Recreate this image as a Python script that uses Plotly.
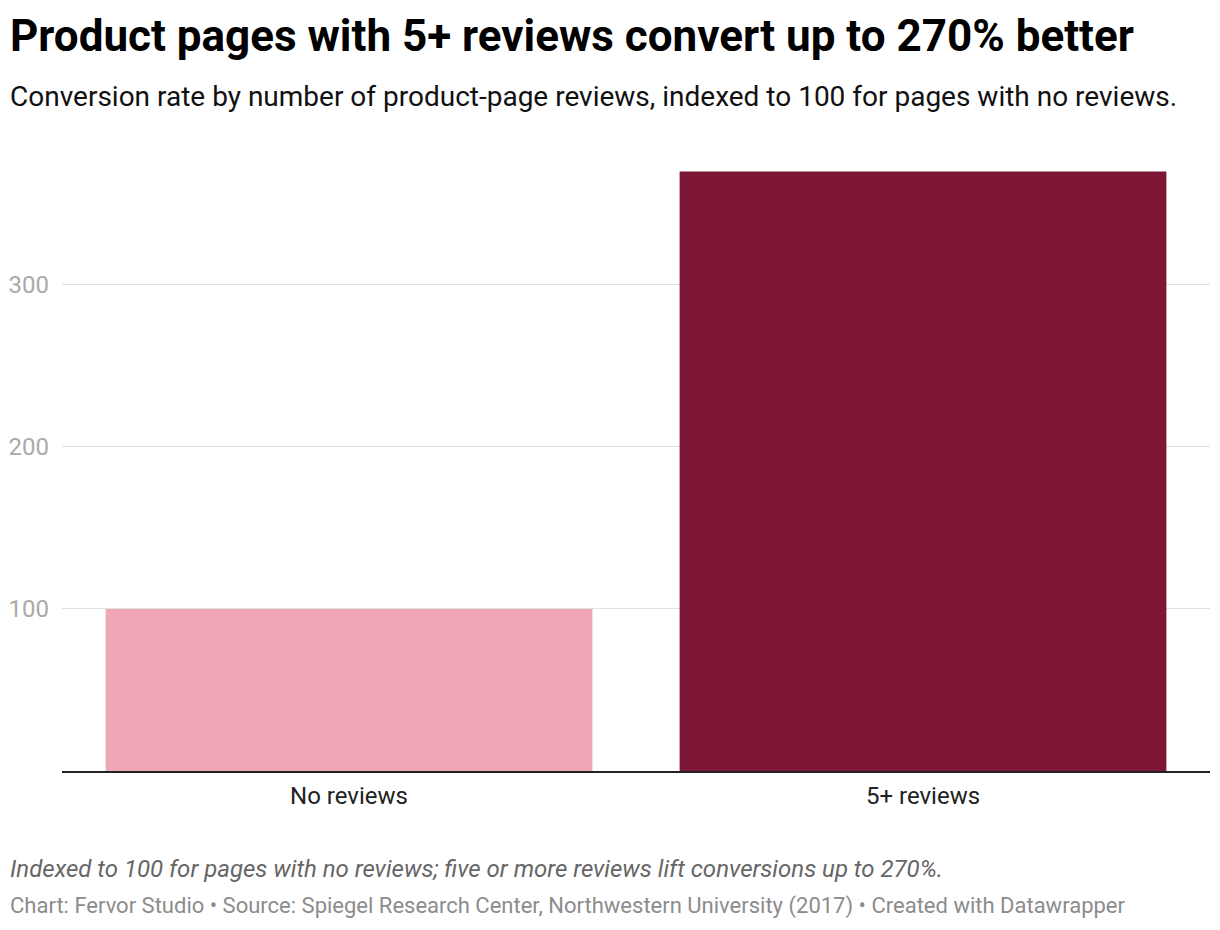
import plotly.graph_objects as go

categories = ["No reviews", "5+ reviews"]
values = [100, 370]
bar_colors = ["#EFA7B7", "#7D1535"]
tick_values = [100, 200, 300]
tick_labels = ["100", "200", "300"]

title = "Product pages with 5+ reviews convert up to 270% better"
subtitle = "Conversion rate by number of product-page reviews, indexed to 100 for pages with no reviews."
note = "Indexed to 100 for pages with no reviews; five or more reviews lift conversions up to 270%."
credit = "Chart: Fervor Studio • Source: Spiegel Research Center, Northwestern University (2017) • Created with Datawrapper"

# page body has an 8px margin; figure coordinates are offset by it
OFF = 8
W, H = 1220 - OFF, 930 - OFF
ML = 62 - OFF
MT = 139 - OFF
MR = W - (1210 - OFF)
MB = H - (771 - OFF)
plot_h = H - MT - MB
plot_w = W - ML - MR

def py(p):
    return (H - MB - (p - OFF)) / plot_h

def px(p):
    return ((p - OFF) - ML) / plot_w

fig = go.Figure(
    go.Bar(
        x=categories,
        y=values,
        marker=dict(color=bar_colors, line=dict(width=0)),
        hoverinfo="skip",
    )
)

fig.update_layout(
    width=W,
    height=H,
    margin=dict(l=ML, r=MR, t=MT, b=MB, autoexpand=False),
    paper_bgcolor="white",
    plot_bgcolor="white",
    bargap=0.152,
    showlegend=False,
    font=dict(family="Roboto", color="#000"),
    xaxis=dict(
        showline=True,
        linecolor="#222",
        linewidth=2,
        ticks="",
        tickfont=dict(size=24, color="#222"),
        ticklabelstandoff=2,
        showgrid=False,
        zeroline=False,
        fixedrange=True,
        automargin=False,
    ),
    yaxis=dict(
        range=[0, 390],
        tickvals=tick_values,
        ticktext=tick_labels,
        tickfont=dict(size=24, color="#aaaaaa"),
        showgrid=True,
        gridcolor="#e0e0e0",
        gridwidth=1,
        zeroline=False,
        ticks="",
        ticklabelstandoff=12,
        showline=False,
        fixedrange=True,
        automargin=False,
    ),
)

annos = [
    dict(text="<b>" + title + "</b>", x=px(8), y=py(36), size=44, color="#000"),
    dict(text=subtitle, x=px(8), y=py(96), size=28, color="#111"),
    dict(text="<i>" + note + "</i>", x=px(8), y=py(869), size=24, color="#666"),
    dict(text=credit, x=px(8), y=py(906), size=22, color="#8c8c8c"),
]
for a in annos:
    fig.add_annotation(
        text=a["text"],
        x=a["x"],
        y=a["y"],
        xref="paper",
        yref="paper",
        xanchor="left",
        yanchor="middle",
        showarrow=False,
        font=dict(family="Roboto", size=a["size"], color=a["color"]),
    )

fig.write_html("out.html", config={"displayModeBar": False})
